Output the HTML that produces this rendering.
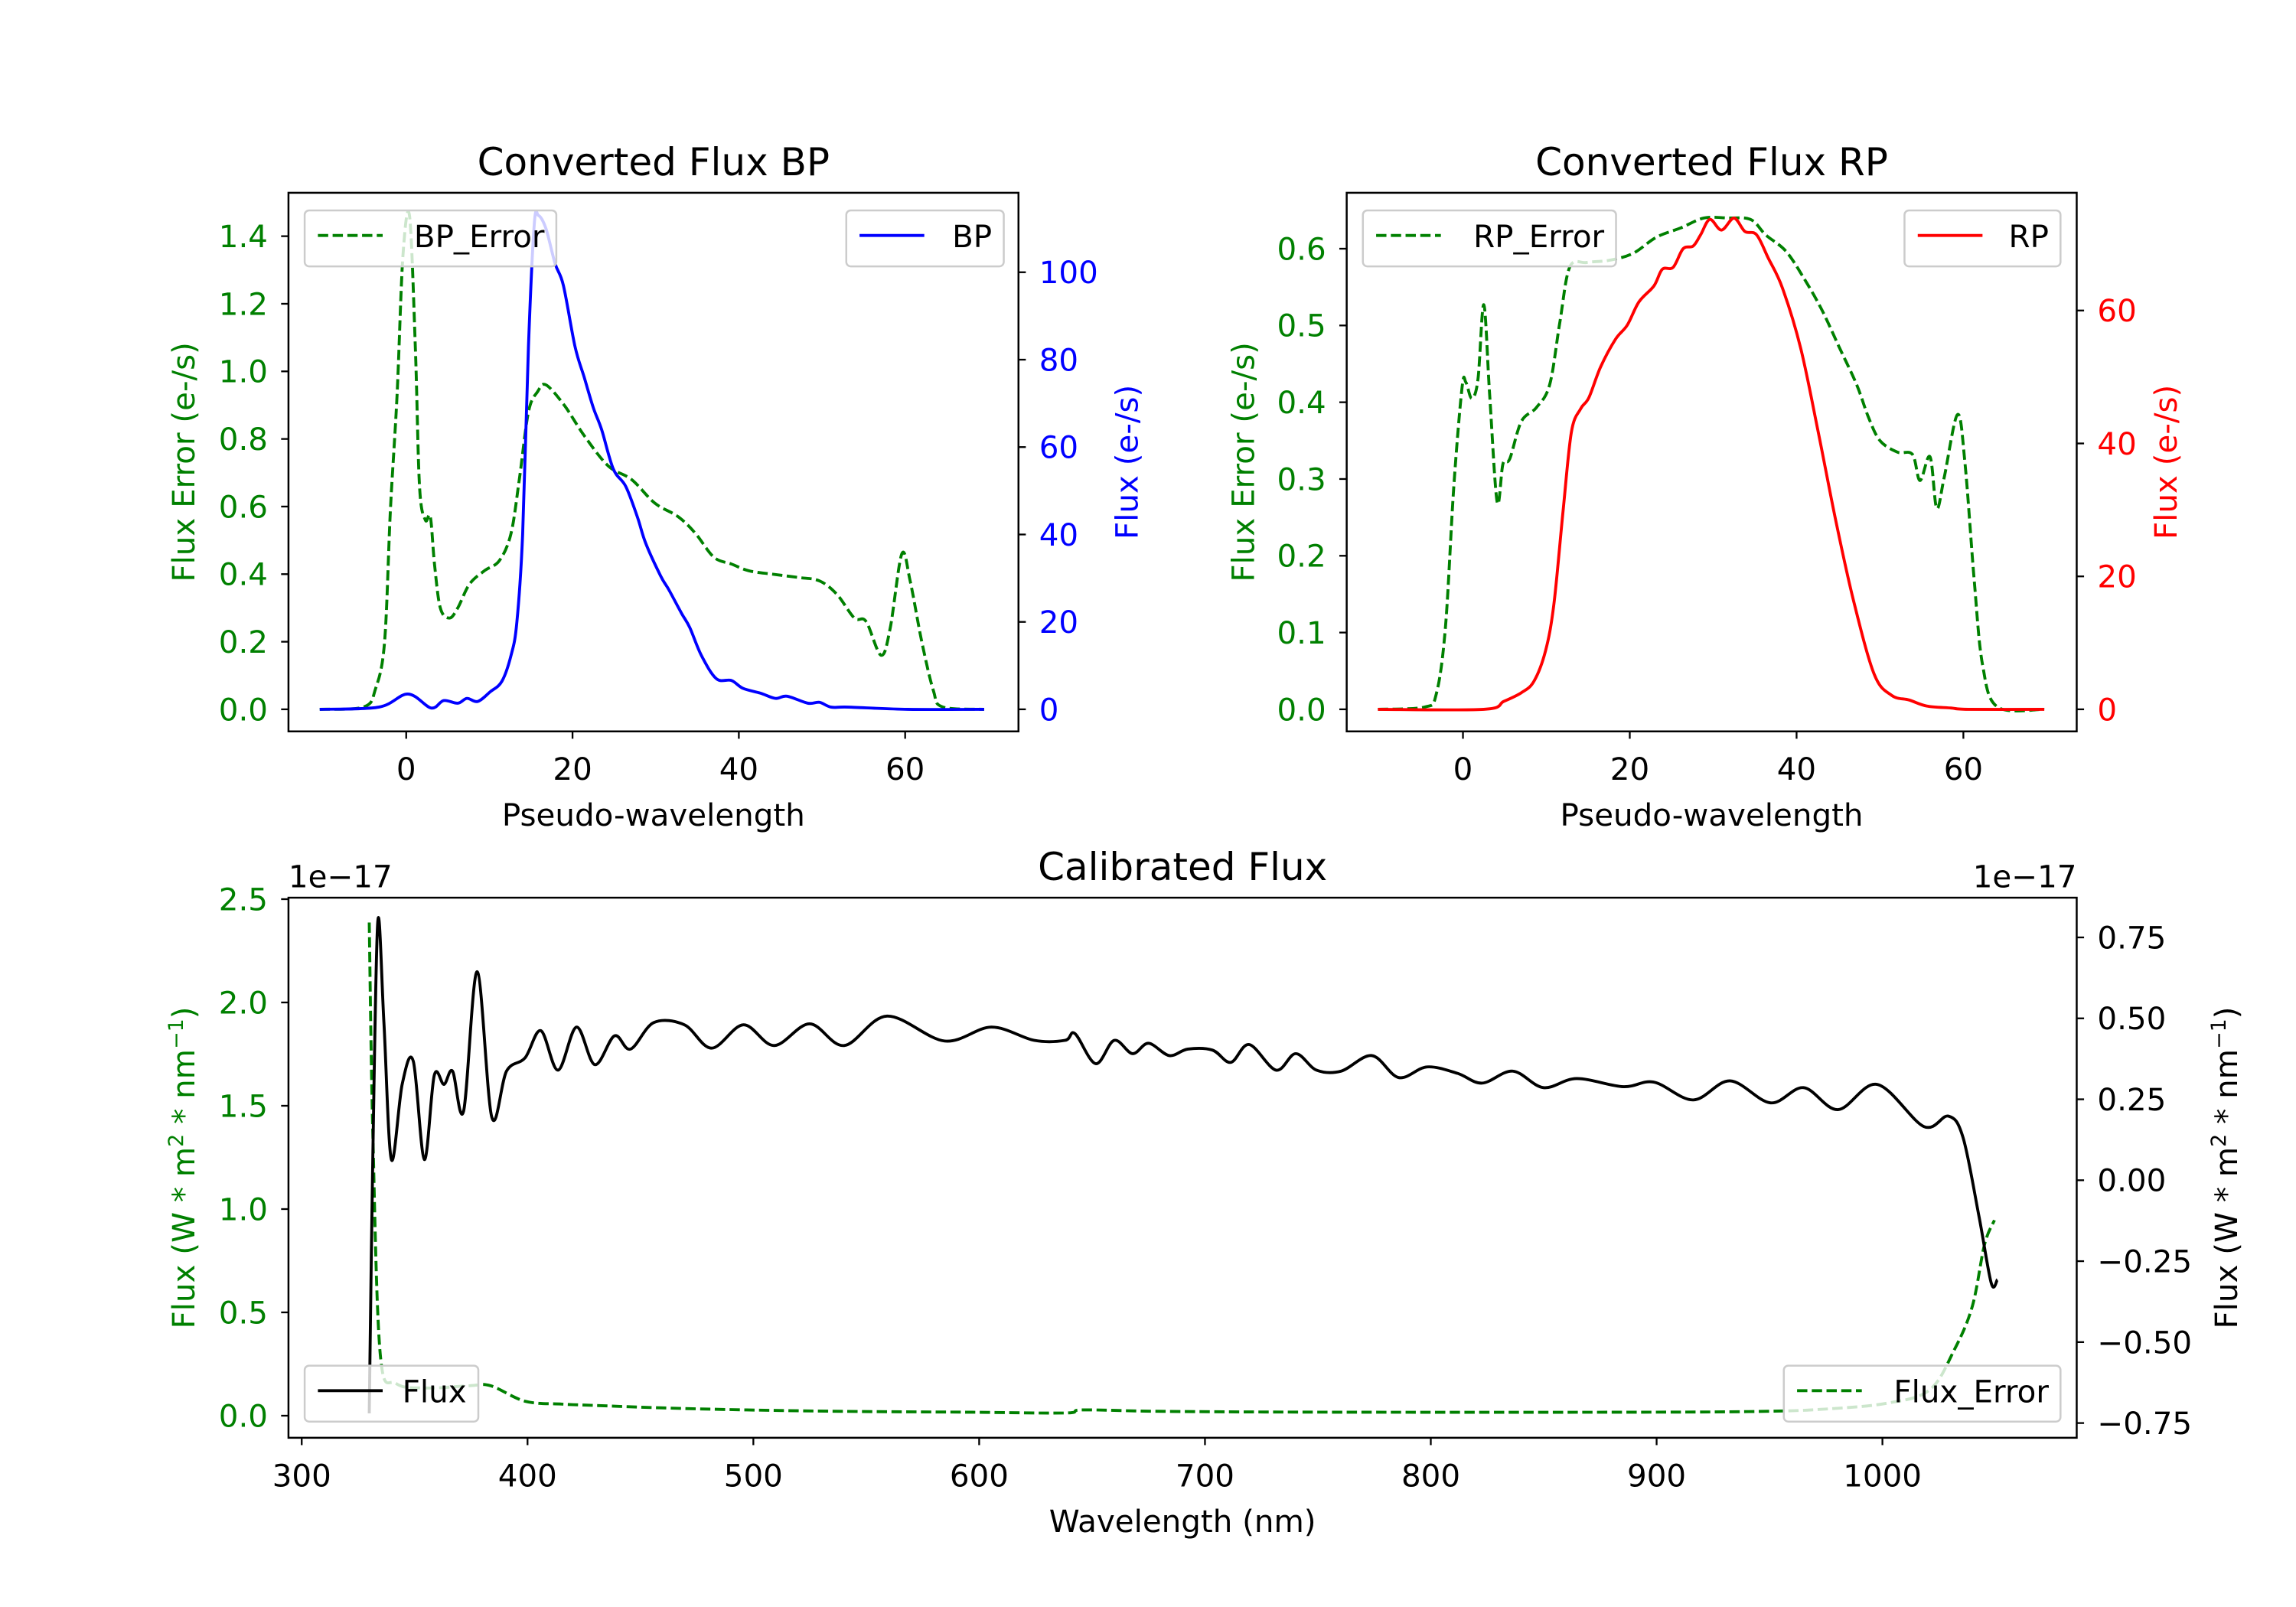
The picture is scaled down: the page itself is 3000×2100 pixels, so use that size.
<!DOCTYPE html>
<html><head><meta charset="utf-8"><style>
html,body{margin:0;padding:0;background:#fff;}
svg{display:block;font-family:"DejaVu Sans","Liberation Sans",sans-serif;}
</style></head><body>
<svg id="fig" xmlns="http://www.w3.org/2000/svg" width="3000" height="2100" viewBox="0 0 1560 1092" preserveAspectRatio="none">
<rect x="0" y="0" width="1560" height="1092" fill="#fff"/>
</svg>
<script>
// ---- BP data ----
const bpX = [-10.4,-3.3,0.2,3,4.5,6.2,7.3,8.6,10.1,11.5,12.6,13.3,14,14.7,15.4,15.9,16.8,17.9,18.9,20.3,21.4,22.5,23.5,24.9,26.4,27.8,28.8,30.6,31.6,33.1,34.1,35.5,37.3,39.1,40.5,42.6,44.4,45.8,48.3,49.7,51.1,53.2,60.3,69.5];
const bpFlux = [0,0.5,3.5,0.3,2,1.4,2.5,1.8,4,6.4,12.3,19.8,40,83,111,113,110,102,97,83,76,69,64,55,51,44,38,30.5,27.3,22,18.7,12.3,7,6.6,4.8,3.7,2.5,3,1.4,1.6,0.5,0.5,0,0];
const bpErrX = [-10.4,-5.1,-3.7,-2.6,-1.9,-1.1,-0.4,0.4,1.1,1.6,2.3,2.9,3.4,4.1,5.2,6.2,7.6,9.4,11.2,12.6,13.6,14.7,15.8,16.8,19,21.4,24.3,27.1,29.9,32.7,34.8,37,39.1,41.2,44,47.2,49.7,51.8,53.9,55.3,57.1,58.2,59.6,60.6,62,63.4,64.5,69.5];
const bpErr = [0,0.007,0.06,0.2,0.59,0.93,1.34,1.46,1.07,0.66,0.56,0.57,0.43,0.30,0.27,0.30,0.37,0.41,0.44,0.52,0.68,0.88,0.94,0.96,0.90,0.81,0.72,0.68,0.61,0.57,0.52,0.45,0.43,0.41,0.40,0.39,0.38,0.34,0.27,0.26,0.16,0.24,0.46,0.38,0.2,0.055,0.007,0];
const bpXTicks = [0,20,40,60];
const bpLeftTicks = [0,0.2,0.4,0.6,0.8,1.0,1.2,1.4];
const bpRightTicks = [0,20,40,60,80,100];
// ---- RP data ----
const rpX = [-10.2,2.5,4.9,7,8.5,9.9,10.9,12,13,14.1,15.1,16.5,18.3,19.7,21.1,22.9,23.9,25.2,26.4,27.6,28.5,29.6,31,32.5,33.8,35.2,36.6,38.3,40.5,42.6,44.7,46.8,49.3,51.4,53.5,55.6,58.5,60.6,69.7];
const rpFlux = [0,0,1.2,2.5,4.2,8.8,15.8,29.8,41.7,45.2,46.9,51.5,55.7,57.8,61.3,63.7,66.2,66.5,69.3,69.7,71.4,73.7,72.1,73.9,71.9,71.4,67.9,63.4,54.3,41.7,28.4,16.5,5.3,2.1,1.4,0.5,0.2,0,0];
const rpErrX = [-10.2,-4.6,-3.2,-2.1,-1.1,-0.1,0.35,1.06,1.8,2.5,3.2,4.1,4.8,5.6,7.0,8.8,10.4,11.6,12.8,14.8,17.6,20.4,23.2,26.1,28.9,31.7,34.5,36.3,38.7,40.8,43,45.1,47.2,48.6,50,52.1,53.9,54.8,56,56.8,57.7,59.3,60.2,61.3,62.3,64.1,69.7];
const rpErr = [0,0.003,0.02,0.107,0.29,0.42,0.426,0.405,0.43,0.527,0.41,0.27,0.32,0.326,0.375,0.393,0.423,0.503,0.576,0.582,0.585,0.594,0.615,0.627,0.64,0.64,0.638,0.618,0.597,0.563,0.521,0.472,0.423,0.381,0.35,0.335,0.332,0.298,0.329,0.262,0.302,0.384,0.32,0.168,0.058,0.003,0];
const rpXTicks = [0,20,40,60];
const rpLeftTicks = [0,0.1,0.2,0.3,0.4,0.5,0.6];
const rpRightTicks = [0,20,40,60];
// ---- Calibrated data ----
const calX = [329.9,331.5,333.7,336.4,339.7,344.5,349.4,354.3,358.7,363,366.8,371.7,377.7,384.2,390.7,398.9,405.9,413.5,421.7,429.8,438.5,445.6,455.9,469.5,481.5,495.6,509.2,524.9,540.2,559.2,584.7,605.4,624.4,638,642.4,651.6,659.8,667.9,675,684.2,692.4,703.3,711.4,719.6,731.5,740.2,749.4,760.3,773.9,785.8,798.3,811.9,822.7,836.3,849.9,864.6,885.2,898.8,916.2,932.5,950.4,965.1,980.3,997.7,1018.3,1029.2,1035.7,1042.8,1048.2,1050.9];
const calFlux = [-0.72,0.078,0.80,0.487,0.064,0.297,0.368,0.064,0.324,0.296,0.337,0.214,0.644,0.194,0.337,0.378,0.462,0.34,0.473,0.357,0.446,0.405,0.487,0.48,0.408,0.48,0.416,0.483,0.416,0.507,0.43,0.473,0.432,0.432,0.453,0.36,0.432,0.391,0.423,0.385,0.405,0.402,0.364,0.419,0.34,0.391,0.34,0.337,0.385,0.317,0.35,0.33,0.3,0.337,0.286,0.314,0.289,0.303,0.248,0.307,0.239,0.286,0.218,0.296,0.166,0.198,0.132,-0.113,-0.318,-0.307];
const calErrX = [329.9,331.5,334.8,341.8,355.4,374.4,383.7,398.9,415.2,431.5,458.7,496.7,540.1,594.4,637.9,646,681.4,757.4,893.2,947.5,974.6,1001.8,1020.8,1031.7,1039.8,1045.2,1049.6];
const calErr = [2.387,1.362,0.295,0.156,0.134,0.145,0.145,0.07,0.056,0.049,0.038,0.028,0.021,0.017,0.013,0.028,0.021,0.017,0.017,0.021,0.032,0.06,0.124,0.316,0.529,0.828,0.946];
const calXTicks = [300,400,500,600,700,800,900,1000];
const calLeftTicks = [0,0.5,1.0,1.5,2.0,2.5];
const calRightTicks = [-0.75,-0.5,-0.25,0,0.25,0.5,0.75];

const NS="http://www.w3.org/2000/svg";
const svg=document.getElementById('fig');
const FS=21, TFS=26;
function mk(tag,attrs,parent){const e=document.createElementNS(NS,tag);for(const k in attrs)e.setAttribute(k,attrs[k]);(parent||svg).appendChild(e);return e;}
function txt(s,attrs,parent){const e=mk('text',attrs,parent);e.textContent=s;return e;}
function lin(d0,d1,r0,r1){return v=>r0+(v-d0)*(r1-r0)/(d1-d0);}
function fmt(v,dec){let s=v.toFixed(dec);return s.replace('-','\u2212');}
function pathD(xs,ys,sx,sy){
  const P=xs.map((x,i)=>[sx(x),sy(ys[i])]);
  let d='M'+P[0][0].toFixed(2)+' '+P[0][1].toFixed(2);
  for(let i=0;i<P.length-1;i++){
    const p0=P[i-1]||P[i],p1=P[i],p2=P[i+1],p3=P[i+2]||P[i+1];
    const c1=[p1[0]+(p2[0]-p0[0])/6,p1[1]+(p2[1]-p0[1])/6];
    const c2=[p2[0]-(p3[0]-p1[0])/6,p2[1]-(p3[1]-p1[1])/6];
    d+=` C${c1[0].toFixed(2)} ${c1[1].toFixed(2)} ${c2[0].toFixed(2)} ${c2[1].toFixed(2)} ${p2[0].toFixed(2)} ${p2[1].toFixed(2)}`;
  }
  return d;
}

function panel(o){
  const g=mk('g',{});
  
  
  const sx=lin(o.xd[0],o.xd[1],o.xr[0],o.xr[1]);
  const syL=lin(o.ld[0],o.ld[1],o.lr[0],o.lr[1]);
  const syR=lin(o.rd[0],o.rd[1],o.rr[0],o.rr[1]);
  const B=o.box;
  const pe=mk('path',{d:pathD(o.errX,o.err,sx,syL),fill:'none',stroke:'#008000','stroke-width':2,'stroke-dasharray':'7,3'},g);
  
  
  const pf=mk('path',{d:pathD(o.fX,o.f,sx,syR),fill:'none',stroke:o.fColor,'stroke-width':2,'stroke-linejoin':'round'},g);
  
  
  const fr=mk('rect',{x:B[0],y:B[1],width:B[2]-B[0],height:B[3]-B[1],fill:'none',stroke:'#000','stroke-width':1.3},g);
  
  
  o.xt.forEach(v=>{const x=sx(v);mk('line',{x1:x,x2:x,y1:B[3],y2:B[3]+5,stroke:'#000','stroke-width':1.2},g);
    const t=txt(String(v),{x:x,y:B[3]+33,'font-size':FS,'text-anchor':'middle',fill:'#000'},g);
    
    });
  o.lt.forEach(v=>{const y=syL(v);mk('line',{x1:B[0]-5,x2:B[0],y1:y,y2:y,stroke:'#000','stroke-width':1.2},g);
    const t=txt(fmt(v,o.ldec),{x:B[0]-14,y:y+7.5,'font-size':FS,'text-anchor':'end',fill:o.lColor},g);
    
    });
  o.rtk.forEach(v=>{const y=syR(v);mk('line',{x1:B[2],x2:B[2]+5,y1:y,y2:y,stroke:'#000','stroke-width':1.2},g);
    const t=txt(fmt(v,o.rdec),{x:B[2]+14,y:y+7.5,'font-size':FS,'text-anchor':'start',fill:o.rColor},g);
    
    });
  const cx=(B[0]+B[2])/2;
  const tt=txt(o.title,{x:cx,y:B[1]-12,'font-size':TFS,'text-anchor':'middle',fill:'#000'},g);
  
  
  const xl=txt(o.xlabel,{x:cx,y:B[3]+64,'font-size':FS,'text-anchor':'middle',fill:'#000'},g);
  
  
  const cy=(B[1]+B[3])/2;
  const yl=mk('text',{x:0,y:0,transform:`translate(${o.lyx},${cy}) rotate(-90)`,'font-size':FS,'text-anchor':'middle',fill:o.lColor},g);
  yl.innerHTML=o.ylab;
  
  
  const yr=mk('text',{x:0,y:0,transform:`translate(${o.ryx},${cy}) rotate(-90)`,'font-size':FS,'text-anchor':'middle',fill:o.rColor},g);
  yr.innerHTML=o.yrab;
  
  
  o.legends.forEach(L=>{
    const lg=mk('g',{},g);
    
    
    mk('rect',{x:L.x,y:L.y,width:L.w,height:38,rx:3,fill:'rgba(255,255,255,0.8)',stroke:'#cccccc','stroke-width':1.3},lg);
    mk('line',{x1:L.x+9,x2:L.x+53,y1:L.y+17,y2:L.y+17,stroke:L.color,'stroke-width':2,'stroke-dasharray':L.dash?'7,3':'none'},lg);
    txt(L.text,{x:L.x+L.w-8,y:L.y+25,'font-size':FS,'text-anchor':'end',fill:'#000'},lg);
  });
  return g;
}

panel({name:'bp-panel',box:[196,131,692,497],xd:[0,60],xr:[276,615],ld:[0,1.4],lr:[482,160.5],rd:[0,100],rr:[482,185],
  errX:bpErrX,err:bpErr,fX:bpX,f:bpFlux,fColor:'#0000ff',errName:'bp-error',fName:'bp-flux',
  xt:bpXTicks,lt:bpLeftTicks,ldec:1,rtk:bpRightTicks,rdec:0,lColor:'#008000',rColor:'#0000ff',
  title:'Converted Flux BP',xlabel:'Pseudo-wavelength',lyx:132,ryx:773,ylab:'Flux Error (e-/s)',yrab:'Flux (e-/s)',
  legends:[{name:'bp-error-legend',x:207,y:143,w:171,color:'#008000',dash:true,text:'BP_Error'},{name:'bp-legend',x:575,y:143,w:107,color:'#0000ff',dash:false,text:'BP'}]});
panel({name:'rp-panel',box:[915,131,1411,497],xd:[0,60],xr:[994,1334],ld:[0,0.6],lr:[482,169],rd:[0,60],rr:[482,211],
  errX:rpErrX,err:rpErr,fX:rpX,f:rpFlux,fColor:'#ff0000',errName:'rp-error',fName:'rp-flux',
  xt:rpXTicks,lt:rpLeftTicks,ldec:1,rtk:rpRightTicks,rdec:0,lColor:'#008000',rColor:'#ff0000',
  title:'Converted Flux RP',xlabel:'Pseudo-wavelength',lyx:852,ryx:1479,ylab:'Flux Error (e-/s)',yrab:'Flux (e-/s)',
  legends:[{name:'rp-error-legend',x:926,y:143,w:172,color:'#008000',dash:true,text:'RP_Error'},{name:'rp-legend',x:1294,y:143,w:106,color:'#ff0000',dash:false,text:'RP'}]});
panel({name:'calibrated-panel',box:[196,610,1411,977],xd:[300,1000],xr:[205,1279],ld:[0,2.5],lr:[962,611],rd:[0,0.75],rr:[802,637],
  errX:calErrX,err:calErr,fX:calX,f:calFlux,fColor:'#000000',errName:'flux-error',fName:'flux',
  xt:calXTicks,lt:calLeftTicks,ldec:1,rtk:calRightTicks,rdec:2,lColor:'#008000',rColor:'#000000',
  title:'Calibrated Flux',xlabel:'Wavelength (nm)',lyx:132,ryx:1520,
  ylab:'Flux (W * m<tspan baseline-shift="super" font-size="14">2</tspan> * nm<tspan baseline-shift="super" font-size="14">\u22121</tspan>)',
  yrab:'Flux (W * m<tspan baseline-shift="super" font-size="14">2</tspan> * nm<tspan baseline-shift="super" font-size="14">\u22121</tspan>)',
  legends:[{name:'flux-legend',x:207,y:928,w:118,color:'#000000',dash:false,text:'Flux'},{name:'flux-error-legend',x:1212,y:928,w:188,color:'#008000',dash:true,text:'Flux_Error'}]});
const e1=txt('1e\u221217',{x:196,y:603,'font-size':FS,fill:'#000'});


const e2=txt('1e\u221217',{x:1411,y:603,'font-size':FS,'text-anchor':'end',fill:'#000'});


</script>
</body></html>
